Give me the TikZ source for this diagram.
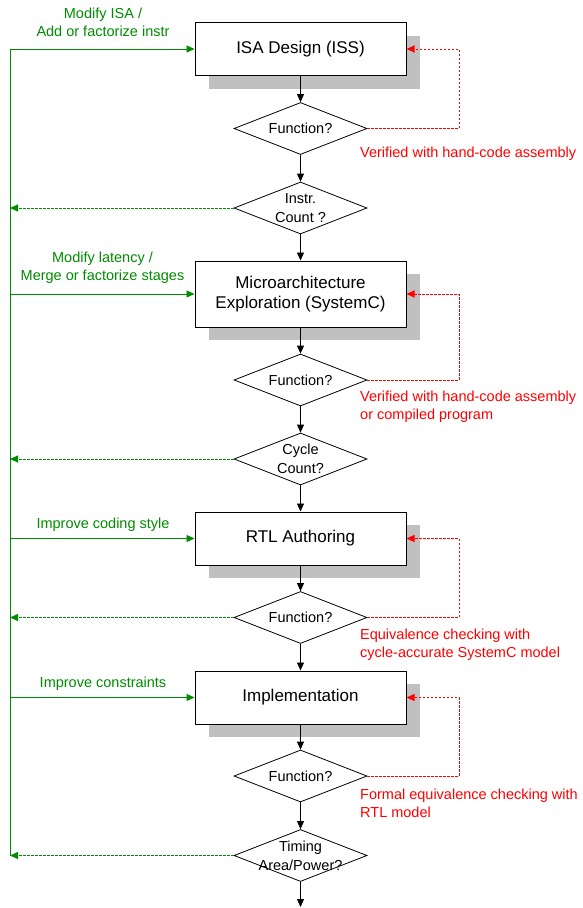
\documentclass[tikz,border=0pt]{standalone}
\usepackage{fontspec}
\setmainfont{Liberation Sans}
\usetikzlibrary{arrows.meta,shapes.geometric,shadows}
\definecolor{flowgreen}{RGB}{0,140,0}
\definecolor{checkred}{RGB}{255,0,0}
\definecolor{shadowgray}{RGB}{192,192,192}
\begin{document}
\begin{tikzpicture}[x=1pt,y=-1pt,
  tip/.style={-{Triangle[length=8pt,width=7pt]}},
  stagebox/.style={draw, line width=1pt, fill=white, minimum width=211pt,
    align=center, inner sep=0pt, font=\fontsize{17}{20}\selectfont,
    general shadow={fill=shadowgray, shadow xshift=14pt, shadow yshift=-13pt}},
  decision/.style={draw, shape=diamond, minimum width=133pt, minimum height=52pt,
    inner sep=0pt, line width=0.8pt},
  dtext/.style={align=center, inner sep=0pt, font=\fontsize{14.5}{19}\selectfont},
  flow/.style={draw, line width=0.9pt, tip},
  greenlabel/.style={text=flowgreen, align=center, inner sep=0pt,
    font=\fontsize{14.5}{17.5}\selectfont},
  redlabel/.style={text=checkred, align=left, inner sep=0pt, anchor=west,
    font=\fontsize{14.5}{18.5}\selectfont},
  backbone/.style={draw=flowgreen, line width=0.9pt},
  rework/.style={draw=flowgreen, line width=0.9pt, tip},
  retry/.style={draw=flowgreen, line width=0.9pt, dash pattern=on 2.5pt off 1.5pt, tip},
  verify/.style={draw=checkred, line width=0.9pt, dash pattern=on 2.5pt off 1.5pt, tip},
]
\useasboundingbox (0,0) rectangle (582,908);

% guide columns for the feedback loops
\coordinate (lx) at (10,0);
\coordinate (rx) at (459,0);

% design stages
\node[stagebox, minimum height=53pt] (b1) at (300.5,49) {ISA Design (ISS)};
\node[stagebox, minimum height=66pt] (b2) at (300.5,294) {Microarchitecture\\Exploration (SystemC)};
\node[stagebox, minimum height=53pt] (b3) at (300.5,538.5) {RTL Authoring};
\node[stagebox, minimum height=53pt] (b4) at (300.5,697.5) {Implementation};

% checks
\node[decision] (d1) at (300.5,128.5) {};
\node[dtext] at (d1) {Function?};
\node[decision] (d2) at (300.5,208) {};
\node[dtext] at (d2) {Instr.\\Count ?};
\node[decision] (d3) at (300.5,380) {};
\node[dtext] at (d3) {Function?};
\node[decision] (d4) at (300.5,459) {};
\node[dtext] at (d4) {Cycle\\Count?};
\node[decision] (d5) at (300.5,617.5) {};
\node[dtext] at (d5) {Function?};
\node[decision] (d6) at (300.5,776) {};
\node[dtext] at (d6) {Function?};
\node[decision] (d7) at (300.5,855.5) {};
\node[dtext] at (d7) {Timing\\Area/Power?};
\coordinate (out) at (300.5,907);

% main flow
\draw[flow] (b1) -- (d1);
\draw[flow] (d1) -- (d2);
\draw[flow] (d2) -- (b2);
\draw[flow] (b2) -- (d3);
\draw[flow] (d3) -- (d4);
\draw[flow] (d4) -- (b3);
\draw[flow] (b3) -- (d5);
\draw[flow] (d5) -- (b4);
\draw[flow] (b4) -- (d6);
\draw[flow] (d6) -- (d7);
\draw[flow] (d7) -- (out);

% rework loops on the left
\draw[backbone] (lx |- b1.west) -- (lx |- d7.west);
\draw[rework] (lx |- b1.west) -- (b1.west);
\draw[rework] (lx |- b2.west) -- (b2.west);
\draw[rework] (lx |- b3.west) -- (b3.west);
\draw[rework] (lx |- b4.west) -- (b4.west);
\draw[retry] (d2.west) -- (d2.west -| lx);
\draw[retry] (d4.west) -- (d4.west -| lx);
\draw[retry] (d5.west) -- (d5.west -| lx);
\draw[retry] (d7.west) -- (d7.west -| lx);

\node[greenlabel] at (103,22.5) {Modify ISA /\\Add or factorize instr};
\node[greenlabel] at (102.5,267.5) {Modify latency /\\Merge or factorize stages};
\node[greenlabel] at (103,525) {Improve coding style};
\node[greenlabel] at (103,684) {Improve constraints};

% functional verification loops on the right
\draw[verify] (d1.east) -- (d1.east -| rx) -- (rx |- b1.east) -- (b1.east);
\draw[verify] (d3.east) -- (d3.east -| rx) -- (rx |- b2.east) -- (b2.east);
\draw[verify] (d5.east) -- (d5.east -| rx) -- (rx |- b3.east) -- (b3.east);
\draw[verify] (d6.east) -- (d6.east -| rx) -- (rx |- b4.east) -- (b4.east);

\node[redlabel] at (360,154) {Verified with hand-code assembly};
\node[redlabel] at (360,406.5) {Verified with hand-code assembly\\or compiled program};
\node[redlabel] at (360,644.5) {Equivalence checking with\\cycle-accurate SystemC model};
\node[redlabel] at (360,803.5) {Formal equivalence checking with\\RTL model};
\end{tikzpicture}
\end{document}
